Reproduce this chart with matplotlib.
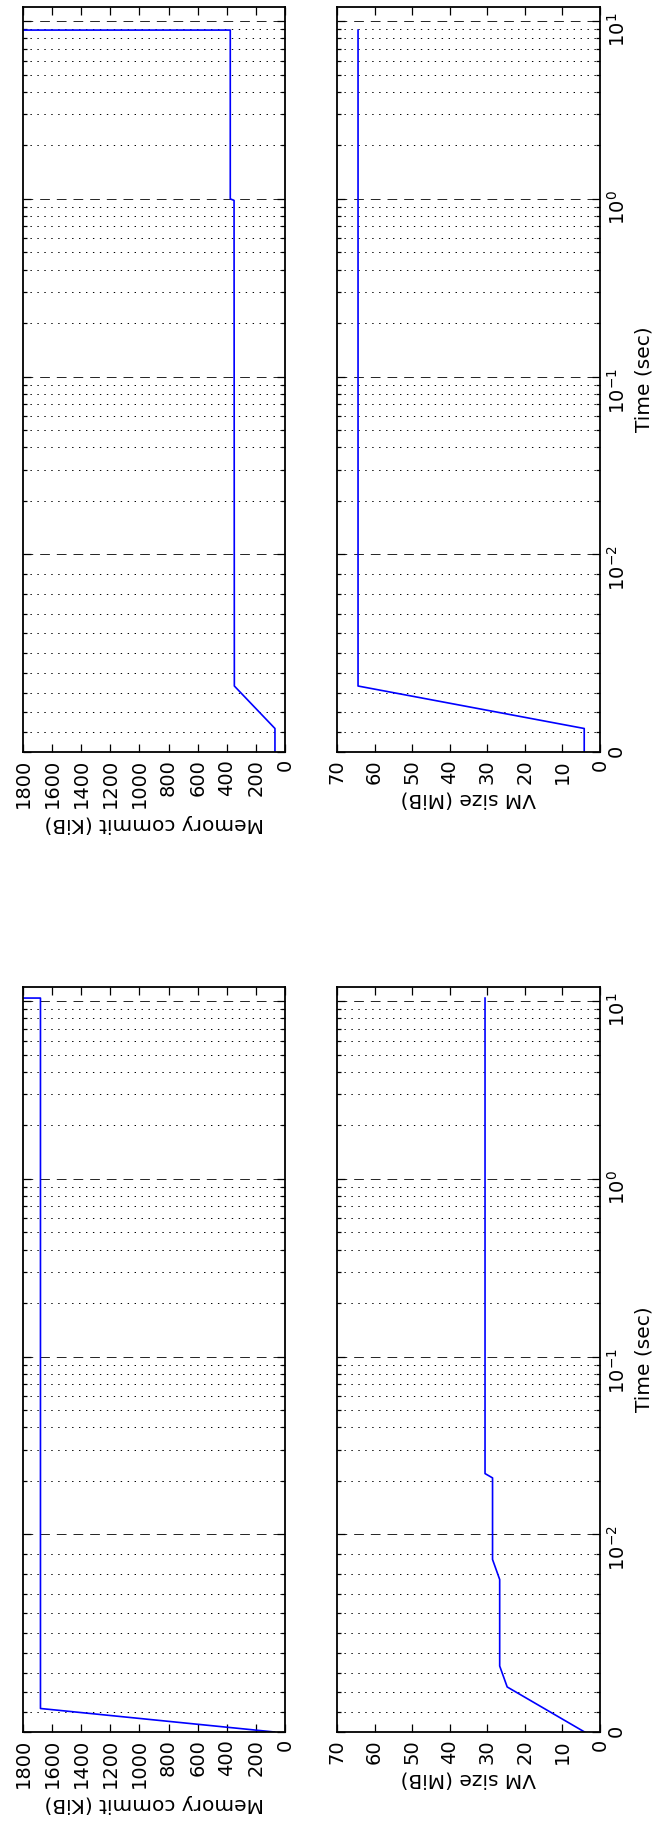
import numpy as np
import matplotlib
matplotlib.use('Agg')
import matplotlib.pyplot as plt
from matplotlib.ticker import FixedLocator, FuncFormatter, NullLocator

plt.rcParams['lines.scale_dashes'] = False
plt.rcParams['font.size'] = 14

# first run (upper half of the page)
time_a = [0, 0.00119, 0.00334, 0.98, 1.0, 8.9, 8.9]
mem_a = [69, 69, 348, 350, 376, 376, 1950]
vm_a = [4.2, 4.2, 64.4, 64.4, 64.4, 64.4, 64.4]

# second run (lower half of the page)
time_b_mem = [0, 0.00119, 10.4, 10.4]
mem_b = [72, 1680, 1680, 1950]
time_b_vm = [0, 0.00228, 0.00334, 0.00772, 0.00873, 0.0208, 0.022, 10.4]
vm_b = [4.1, 24.7, 26.7, 26.7, 28.6, 28.6, 30.6, 30.6]

time_major = [0, 0.01, 0.1, 1, 10]
time_minor = [k * 10.0 ** e for e in (-3, -2, -1, 0)
              for k in range(1 if e == -3 else 2, 10)]
mem_ticks = list(range(0, 1801, 200))
vm_ticks = list(range(0, 71, 10))


def fmt_time(v, pos):
    if v == 0:
        return '0'
    return r'$10^{%d}$' % round(np.log10(v))


def setup(ax, xmax, xticks, xlabel, show_time):
    ax.set_yscale('symlog', linthresh=0.01, linscale=1)
    ax.set_ylim(0, 12)
    ax.set_xlim(xmax, 0)
    ax.xaxis.set_major_locator(FixedLocator(xticks))
    ax.xaxis.set_minor_locator(NullLocator())
    ax.yaxis.set_major_locator(FixedLocator(time_major))
    ax.yaxis.set_minor_locator(FixedLocator(time_minor))
    ax.yaxis.set_major_formatter(FuncFormatter(fmt_time))
    ax.tick_params(which='both', direction='in', top=True, bottom=True,
                   left=True, right=True, width=0.9)
    ax.tick_params(which='major', length=5.5)
    ax.tick_params(which='minor', length=2.8)
    ax.tick_params(axis='x', labelrotation=90, labelsize=14, pad=5)
    ax.tick_params(axis='y', labelleft=False, labelright=show_time,
                   labelrotation=90, labelsize=14, pad=5)
    ax.grid(True, axis='y', which='major', color='k',
            linestyle=(0, (7, 5)), linewidth=0.6)
    ax.grid(True, axis='y', which='minor', color='k',
            linestyle=(0, (1, 4)), linewidth=0.7)
    ax.set_xlabel(xlabel, rotation=180, fontsize=14.5)
    if show_time:
        ax.yaxis.set_label_position('right')
        ax.set_ylabel('Time (sec)', rotation=90, fontsize=14.5)
    for s in ax.spines.values():
        s.set_linewidth(1.3)


fig = plt.figure(figsize=(6.57, 18.27), dpi=100)
H = 745 / 1827
ax1 = fig.add_axes([23 / 657, (1827 - 752) / 1827, 262 / 657, H])
ax2 = fig.add_axes([337 / 657, (1827 - 752) / 1827, 263 / 657, H])
ax3 = fig.add_axes([23 / 657, (1827 - 1732) / 1827, 262 / 657, H])
ax4 = fig.add_axes([337 / 657, (1827 - 1732) / 1827, 263 / 657, H])

ax1.plot(mem_a, time_a, color='b', linewidth=1.2)
ax2.plot(vm_a, time_a, color='b', linewidth=1.2)
ax3.plot(mem_b, time_b_mem, color='b', linewidth=1.2)
ax4.plot(vm_b, time_b_vm, color='b', linewidth=1.2)

setup(ax1, 1800, mem_ticks, 'Memory commit (KiB)', False)
setup(ax2, 70, vm_ticks, 'VM size (MiB)', True)
setup(ax3, 1800, mem_ticks, 'Memory commit (KiB)', False)
setup(ax4, 70, vm_ticks, 'VM size (MiB)', True)

fig.savefig('out.png', dpi=100)
